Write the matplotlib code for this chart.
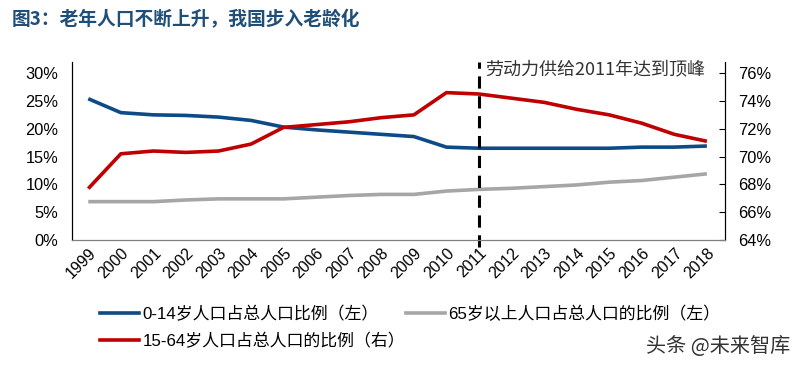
import matplotlib
matplotlib.use("Agg")
import matplotlib.pyplot as plt
from matplotlib.lines import Line2D

plt.rcParams['font.family'] = ['Liberation Sans', 'Noto Sans CJK SC', 'DejaVu Sans']

years = ['1999', '2000', '2001', '2002', '2003', '2004', '2005', '2006', '2007', '2008',
         '2009', '2010', '2011', '2012', '2013', '2014', '2015', '2016', '2017', '2018']
age_0_14 = [25.4, 22.9, 22.5, 22.4, 22.1, 21.5, 20.3, 19.8, 19.4, 19.0,
            18.6, 16.7, 16.5, 16.5, 16.5, 16.5, 16.5, 16.7, 16.7, 16.9]
age_65 = [6.9, 6.9, 6.9, 7.2, 7.4, 7.4, 7.4, 7.7, 8.0, 8.2,
          8.2, 8.8, 9.1, 9.3, 9.6, 9.9, 10.4, 10.7, 11.3, 11.9]
age_15_64 = [67.7, 70.2, 70.4, 70.3, 70.4, 70.9, 72.1, 72.3, 72.5, 72.8,
             73.0, 74.6, 74.5, 74.2, 73.9, 73.4, 73.0, 72.4, 71.6, 71.1]

blue = '#0D4A86'
gray = '#A6A6A6'
red = '#C00000'

fig = plt.figure(figsize=(8, 3.67), dpi=100)
ax = fig.add_axes([0.09, 0.346, 0.816, 0.485])
ax2 = ax.twinx()

x = list(range(len(years)))
ax.plot(x, age_0_14, color=blue, lw=2.6, solid_capstyle='butt')
ax.plot(x, age_65, color=gray, lw=2.6, solid_capstyle='butt')
ax2.plot(x, age_15_64, color=red, lw=2.6, solid_capstyle='butt')

ax.set_xlim(-0.5, 19.55)
ax.set_ylim(0, 32)
ax2.set_ylim(64, 76.8)
ax.set_yticks(range(0, 31, 5))
ax.set_yticklabels([f'{v}%' for v in range(0, 31, 5)])
ax2.set_yticks(range(64, 77, 2))
ax2.set_yticklabels([f'{v}%' for v in range(64, 77, 2)])
ax.set_xticks(x)
ax.set_xticklabels(years, rotation=45, ha='right', rotation_mode='anchor')

ax.tick_params(axis='x', length=0, labelsize=11.5, pad=4)
ax.tick_params(axis='y', length=0, labelsize=11.8, pad=10)
ax2.tick_params(axis='y', direction='in', length=4, labelsize=11.8, pad=9.5)

for a in (ax, ax2):
    a.spines['top'].set_visible(False)
    a.spines['bottom'].set_color('#7F7F7F')
    a.spines['left'].set_color('black')
    a.spines['right'].set_color('black')

# 2011 dashed marker
ax.axvline(12, ymin=-0.04, ymax=1.0, color='black', lw=2.2, ls=(0, (4, 2.5)), clip_on=False)
ax.text(18.95, 30.6, '劳动力供给2011年达到顶峰', ha='right', va='center',
        fontsize=13, color='#333333', family=['Noto Sans CJK SC', 'DejaVu Sans'])

fig.text(0.015, 0.945, '图3：老年人口不断上升，我国步入老龄化', ha='left', va='center',
         fontsize=13.5, fontweight='bold', color='#1F4E79',
         family=['Noto Sans CJK SC', 'DejaVu Sans'])

handles = [Line2D([], [], color=blue, lw=2.6),
           Line2D([], [], color=gray, lw=2.6),
           Line2D([], [], color=red, lw=2.6)]
labels = ['0-14岁人口占总人口比例（左）', '65岁以上人口占总人口的比例（左）',
          '15-64岁人口占总人口的比例（右）']
fig.legend([handles[0], handles[2], handles[1]], [labels[0], labels[2], labels[1]],
           ncol=2, loc='upper left', bbox_to_anchor=(0.106, 0.208), frameon=False,
           fontsize=12.2, handlelength=2.3, handletextpad=0.2, columnspacing=0.05,
           labelspacing=0.63)

fig.text(0.988, 0.057, '头条 @未来智库', ha='right', va='center', fontsize=14.5, color='#333333',
         family=['Noto Sans CJK SC', 'DejaVu Sans'])

fig.savefig('out.png', dpi=100)
